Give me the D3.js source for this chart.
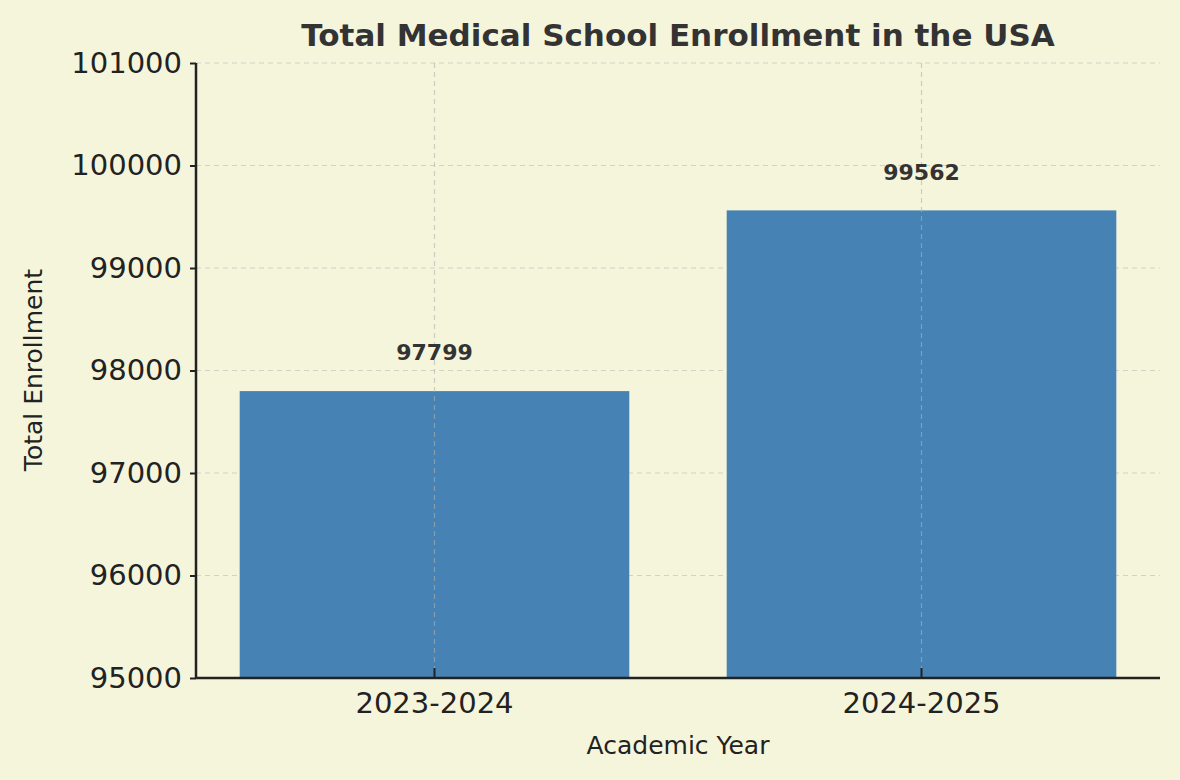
<!DOCTYPE html>
<html><head><meta charset="utf-8">
<script src="https://cdn.jsdelivr.net/npm/d3@7"></script>
<style>body{margin:0;background:#f5f5dc}svg{display:block;font-family:"DejaVu Sans",sans-serif}</style>
</head><body><svg id="c" width="1180" height="780"></svg>
<script>
const categories = ["2023-2024", "2024-2025"];
const values = [97799, 99562];
const yTicks = [95000, 96000, 97000, 98000, 99000, 100000, 101000];

const svg = d3.select("#c");
svg.append("rect").attr("width",1180).attr("height",780).attr("fill","#f5f5dc");
const L=196,R=1160,T=63,B=678;
const x = d3.scaleBand().domain(categories).range([L,R]).paddingInner(0.2).paddingOuter(0.0897);
const y = d3.scaleLinear().domain([95000,101000]).range([B,T]);

// grid
svg.append("g").selectAll("line").data(yTicks).join("line")
  .attr("x1",L).attr("x2",R).attr("y1",d=>y(d)).attr("y2",d=>y(d))
  .attr("stroke","#b0b0b0").attr("stroke-opacity",0.5).attr("stroke-dasharray","5,4").attr("stroke-width",1.2);
// bars
svg.append("g").selectAll("rect").data(categories).join("rect")
  .attr("x",d=>x(d)).attr("width",x.bandwidth())
  .attr("y",(d,i)=>y(values[i])).attr("height",(d,i)=>B-y(values[i]))
  .attr("fill","#4682b4");
// vertical grid (drawn above bars like reference)
svg.append("g").selectAll("line").data(categories).join("line")
  .attr("x1",d=>x(d)+x.bandwidth()/2).attr("x2",d=>x(d)+x.bandwidth()/2).attr("y1",T).attr("y2",B)
  .attr("stroke","#b0b0b0").attr("stroke-opacity",0.6).attr("stroke-dasharray","5,4").attr("stroke-width",1.2);
// value labels
svg.append("g").selectAll("text").data(categories).join("text")
  .attr("x",d=>x(d)+x.bandwidth()/2).attr("y",(d,i)=>y(values[i]+300))
  .attr("text-anchor","middle").attr("font-size",22).attr("font-weight","bold").attr("fill","#333")
  .text((d,i)=>values[i]);
// axes
const ya = svg.append("g").attr("transform",`translate(${L},0)`)
  .call(d3.axisLeft(y).tickValues(yTicks).tickFormat(d3.format("d")).tickSize(6).tickPadding(8));
ya.selectAll("text").attr("font-size",29).attr("fill","#222").attr("font-family","DejaVu Sans");
const xa = svg.append("g").attr("transform",`translate(0,${B})`)
  .call(d3.axisBottom(x).tickSize(-10).tickPadding(14));
xa.selectAll("text").attr("font-size",29).attr("fill","#222").attr("font-family","DejaVu Sans");
[ya,xa].forEach(a=>{a.select(".domain").attr("stroke","#222").attr("stroke-width",2.5);a.selectAll(".tick line").attr("stroke","#222").attr("stroke-width",2);});
xa.select(".domain").attr("d",`M${L},0H${R}`);
ya.select(".domain").attr("d",`M0,${T}V${B}`);
// titles
svg.append("text").attr("x",678).attr("y",46).attr("text-anchor","middle")
  .attr("font-size",31).attr("font-weight","bold").attr("fill","#333").text("Total Medical School Enrollment in the USA");
svg.append("text").attr("x",678).attr("y",754).attr("text-anchor","middle")
  .attr("font-size",25).attr("fill","#222").text("Academic Year");
svg.append("text").attr("transform","translate(42,370) rotate(-90)").attr("text-anchor","middle")
  .attr("font-size",25).attr("fill","#222").text("Total Enrollment");
</script></body></html>
